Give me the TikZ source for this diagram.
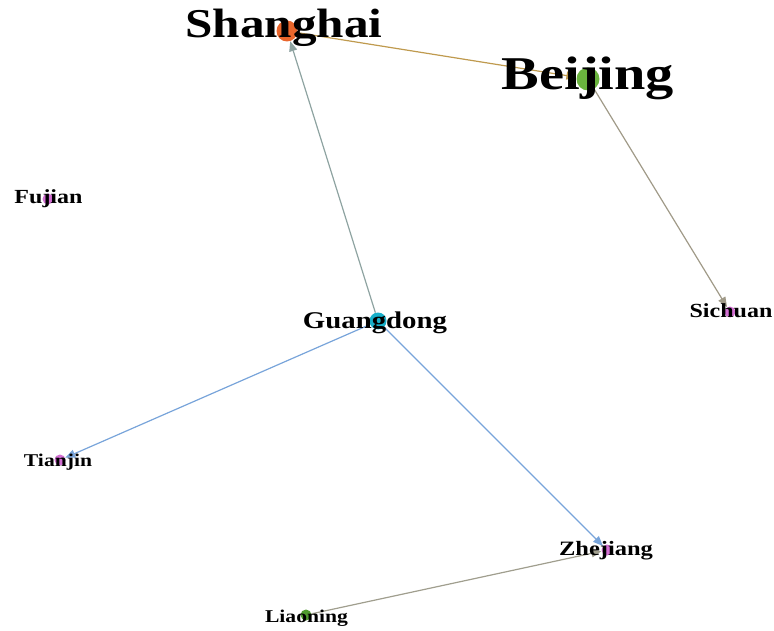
\documentclass[tikz,border=0pt]{standalone}
\usepackage{fontspec}
\setmainfont{Liberation Serif}
\usetikzlibrary{arrows.meta}
\definecolor{cOrange}{HTML}{E9662C}
\definecolor{cGreen}{HTML}{6AB43E}
\definecolor{cDkGreen}{HTML}{4E9A2E}
\definecolor{cCyan}{HTML}{17AFC9}
\definecolor{cPink}{HTML}{D36FD3}
\definecolor{eGold}{HTML}{BF9A4E}
\definecolor{eTeal}{HTML}{8EA3A1}
\definecolor{eBrown}{HTML}{A09A88}
\definecolor{eBlue}{HTML}{78A4DA}
\definecolor{eGray}{HTML}{A09E8E}
\tikzset{
  dot/.style={circle,inner sep=0pt,draw=none},
  lbl/.style={anchor=base,inner sep=0pt,text=black},
  edge/.style={line width=1.2pt,-{Triangle[length=10pt,width=8pt]}}
}
\newcommand{\lab}[2]{{\fontsize{#1}{#1}\selectfont\bfseries\scalebox{1.2}[1]{#2}}}
\begin{document}
\begin{tikzpicture}[x=1pt,y=-1pt]
\useasboundingbox (0,0) rectangle (774,631);
% dots
\node[dot,fill=cOrange,minimum size=21pt] (sh) at (287,31) {};
\node[dot,fill=cGreen,minimum size=23pt] (bj) at (588,79) {};
\node[dot,fill=cPink,minimum size=11pt] (fj) at (48,199) {};
\node[dot,fill=cCyan,minimum size=17pt] (gd) at (378,321) {};
\node[dot,fill=cPink,minimum size=11pt] (sc) at (730,312) {};
\node[dot,fill=cPink,minimum size=11pt] (tj) at (60,460) {};
\node[dot,fill=cPink,minimum size=11pt] (zj) at (607,550) {};
\node[dot,fill=cDkGreen,minimum size=11pt] (ln) at (306,615) {};
% edges
\draw[edge,eGold] (sh) -- (bj);
\draw[edge,eTeal] (gd) -- (sh);
\draw[edge,eBrown] (bj) -- (sc);
\draw[edge,eBlue] (gd) -- (tj);
\draw[edge,eBlue] (gd) -- (zj);
\draw[edge,eGray] (ln) -- (zj);
% labels
\node[lbl] (lsh) at (284,38) {\lab{41}{Shanghai}};
\node[lbl] (lbj) at (588,90) {\lab{47}{Beijing}};
\node[lbl] (lfj) at (48.5,204) {\lab{20}{Fujian}};
\node[lbl] (lgd) at (375,328) {\lab{24}{Guangdong}};
\node[lbl] (lsc) at (731,317) {\lab{20}{Sichuan}};
\node[lbl] (ltj) at (58,466) {\lab{18}{Tianjin}};
\node[lbl] (lzj) at (606,555) {\lab{20.4}{Zhejiang}};
\node[lbl] (lln) at (306.5,622) {\lab{18}{Liaoning}};
\end{tikzpicture}
\end{document}
